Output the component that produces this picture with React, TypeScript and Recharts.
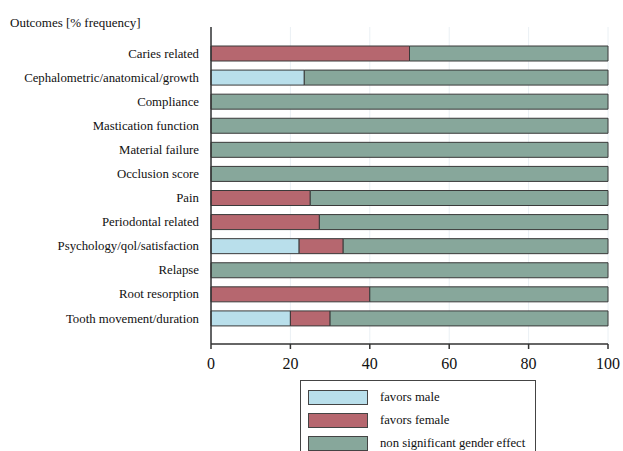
import React from "react";
import { BarChart, Bar, XAxis, YAxis, CartesianGrid } from "recharts";

const CATEGORIES = [
  "Caries related",
  "Cephalometric/anatomical/growth",
  "Compliance",
  "Mastication function",
  "Material failure",
  "Occlusion score",
  "Pain",
  "Periodontal related",
  "Psychology/qol/satisfaction",
  "Relapse",
  "Root resorption",
  "Tooth movement/duration",
];

const FAVORS_MALE = [0, 23.5, 0, 0, 0, 0, 0, 0, 22.2, 0, 0, 20];
const FAVORS_FEMALE = [50, 0, 0, 0, 0, 0, 25, 27.3, 11.1, 0, 40, 10];
const NON_SIGNIFICANT = [50, 76.5, 100, 100, 100, 100, 75, 72.7, 66.7, 100, 60, 70];

const X_TICKS = [0, 20, 40, 60, 80, 100];

const SERIES = [
  { key: "male", label: "favors male", color: "#b9dfeb" },
  { key: "female", label: "favors female", color: "#b6676f" },
  { key: "ns", label: "non significant gender effect", color: "#87a79b" },
];

const data = CATEGORIES.map((name, i) => ({
  name,
  male: FAVORS_MALE[i],
  female: FAVORS_FEMALE[i],
  ns: NON_SIGNIFICANT[i],
}));

const FONT = '"Liberation Serif", "Times New Roman", serif';

export default function App() {
  return (
    <div
      style={{
        position: "absolute",
        left: 0,
        top: 0,
        width: 623,
        height: 451,
        overflow: "hidden",
        background: "#fff",
        fontFamily: FONT,
      }}
    >
      <div
        style={{
          position: "absolute",
          left: 10,
          top: 15,
          fontSize: 13,
          color: "#111",
          fontFamily: FONT,
        }}
      >
        Outcomes [% frequency]
      </div>

      <BarChart
        width={623}
        height={451}
        data={data}
        layout="vertical"
        margin={{ top: 27, right: 15, bottom: 0, left: 0 }}
        barSize={15}
        style={{ fontFamily: FONT }}
      >
        <CartesianGrid horizontal={false} stroke="#eaf0f4" strokeWidth={1} />
        <XAxis
          type="number"
          domain={[0, 100]}
          ticks={X_TICKS}
          height={107}
          tickSize={5}
          tickMargin={9}
          stroke="#333"
          strokeWidth={1.5}
          tick={{ fontSize: 16, fill: "#111", fontFamily: FONT }}
        />
        <YAxis
          type="category"
          dataKey="name"
          width={211}
          padding={{ top: 14, bottom: 14 }}
          tickLine={false}
          tickMargin={6}
          stroke="#333"
          strokeWidth={1.5}
          interval={0}
          tick={{ fontSize: 12.8, fill: "#111", fontFamily: FONT }}
        />
        {SERIES.map((s) => (
          <Bar
            key={s.key}
            dataKey={s.key}
            stackId="a"
            fill={s.color}
            stroke="#3a3a3a"
            strokeWidth={1}
            isAnimationActive={false}
          />
        ))}
      </BarChart>

      <div
        style={{
          position: "absolute",
          left: 300,
          top: 380,
          width: 236,
          height: 80,
          border: "1px solid #444",
          borderBottom: "none",
          boxSizing: "border-box",
        }}
      >
        {SERIES.map((s, i) => (
          <div
            key={s.key}
            style={{
              position: "absolute",
              left: 7,
              top: 9 + i * 23,
              display: "flex",
              alignItems: "center",
            }}
          >
            <div
              style={{
                width: 60,
                height: 15,
                background: s.color,
                border: "1px solid #444",
                boxSizing: "border-box",
              }}
            />
            <span style={{ marginLeft: 12, fontSize: 12.7, color: "#111", fontFamily: FONT }}>
              {s.label}
            </span>
          </div>
        ))}
      </div>
    </div>
  );
}
